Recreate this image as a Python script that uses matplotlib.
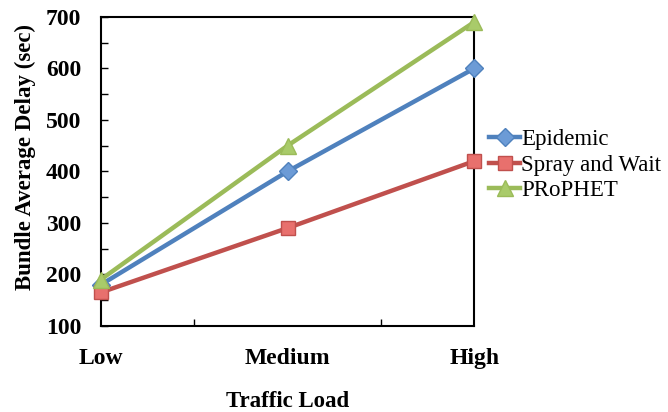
import matplotlib.pyplot as plt
from matplotlib.ticker import MultipleLocator

plt.rcParams['font.family'] = 'serif'
plt.rcParams['font.serif'] = ['Liberation Serif', 'DejaVu Serif']

categories = ['Low', 'Medium', 'High']
epidemic = [180, 400, 600]
spray_and_wait = [165, 290, 420]
prophet = [190, 450, 690]

series = [
    ('Epidemic', epidemic, '#4F81BD', '#6C9BD6', 'D', 9),
    ('Spray and Wait', spray_and_wait, '#C0504D', '#E8706D', 's', 10.5),
    ('PRoPHET', prophet, '#9BBB59', '#A9CB6A', '^', 11),
]

fig = plt.figure(figsize=(6.68, 4.12), dpi=100)
ax = fig.add_axes([0.151, 0.209, 0.559, 0.750])

x = list(range(len(categories)))
for name, vals, col, face, mk, ms in series:
    ax.plot(x, vals, color=col, linewidth=3.2, marker=mk, markersize=ms,
            markerfacecolor=face, markeredgecolor=col, markeredgewidth=1,
            label=name, clip_on=False, zorder=3)

ax.set_xlim(0, 2)
ax.set_ylim(100, 700)
ax.yaxis.set_major_locator(MultipleLocator(100))
ax.yaxis.set_minor_locator(MultipleLocator(50))
ax.set_xticks(x)
ax.set_xticklabels(categories)
ax.set_xticks([0.5, 1.5], minor=True)

ax.tick_params(axis='y', which='major', direction='in', length=5, width=1,
               labelsize=17, pad=14)
ax.tick_params(axis='y', which='minor', direction='in', length=5, width=1)
ax.tick_params(axis='x', which='major', length=0, labelsize=17, pad=16)
ax.tick_params(axis='x', which='minor', direction='in', length=5, width=1)
for lab in ax.get_xticklabels() + ax.get_yticklabels():
    lab.set_fontweight('bold')

for sp in ax.spines.values():
    sp.set_linewidth(1.5)

ax.set_xlabel('Traffic Load', fontsize=16.5, fontweight='bold', labelpad=16)
ax.set_ylabel('Bundle Average Delay (sec)', fontsize=16.5, fontweight='bold')
ax.yaxis.set_label_coords(-0.175, 0.545)

ax.legend(loc='center left', bbox_to_anchor=(1.04, 0.52), frameon=False,
          fontsize=16.5, handlelength=1.35, handletextpad=0.05, labelspacing=0.2,
          borderaxespad=0, borderpad=0)

fig.savefig('out.png', dpi=100)
